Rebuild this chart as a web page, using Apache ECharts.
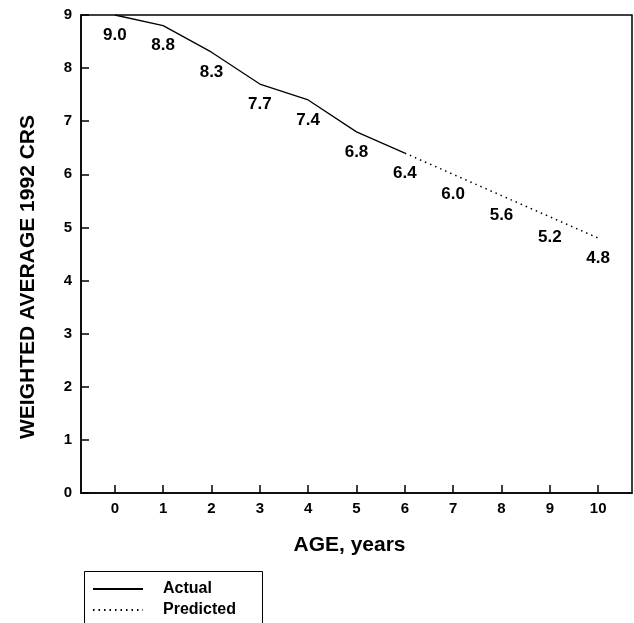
<!DOCTYPE html>
<html>
<head>
<meta charset="utf-8">
<script src="https://cdn.jsdelivr.net/npm/echarts@6/dist/echarts.min.js"></script>
<style>
  html, body { margin: 0; padding: 0; background: #fff; }
  #chart { width: 634px; height: 623px; }
</style>
</head>
<body>
<div id="chart"></div>
<script>
// ages on the x axis
var ages = [0, 1, 2, 3, 4, 5, 6, 7, 8, 9, 10];
// actual values, age 0..6
var actualAges = [0, 1, 2, 3, 4, 5, 6];
var actualValues = [9.0, 8.8, 8.3, 7.7, 7.4, 6.8, 6.4];
// predicted values, age 6..10
var predictedAges = [6, 7, 8, 9, 10];
var predictedValues = [6.4, 6.0, 5.6, 5.2, 4.8];
var yTicks = [0, 1, 2, 3, 4, 5, 6, 7, 8, 9];

var font = 'Liberation Sans, Arial, Helvetica, sans-serif';

var chart = echarts.init(document.getElementById('chart'));

function pairs(xs, ys, skipFirstLabel) {
  var out = [];
  for (var i = 0; i < xs.length; i++) {
    var item = { value: [xs[i], ys[i]] };
    if (skipFirstLabel && i === 0) item.label = { show: false };
    out.push(item);
  }
  return out;
}

var labelStyle = {
  show: true,
  position: 'bottom',
  distance: 11,
  color: '#000',
  fontFamily: font,
  fontWeight: 'bold',
  fontSize: 17,
  formatter: function (p) { return p.value[1].toFixed(1); }
};

chart.setOption({
  animation: false,
  backgroundColor: '#fff',
  grid: {
    left: 81,
    right: 2,
    top: 15,
    bottom: 130,
    show: true,
    borderColor: '#000',
    borderWidth: 1.5
  },
  xAxis: {
    type: 'value',
    min: -0.7,
    max: 10.7,
    name: 'AGE, years',
    nameLocation: 'middle',
    nameGap: 42,
    nameTextStyle: { color: '#000', fontFamily: font, fontWeight: 'bold', fontSize: 21, padding: [0, 14, 0, 0] },
    axisLine: { lineStyle: { color: '#000', width: 1.5 } },
    axisTick: { inside: true, length: 8, customValues: ages, lineStyle: { color: '#000', width: 1.5 } },
    axisLabel: {
      customValues: ages,
      margin: 8,
      color: '#000',
      fontFamily: font,
      fontWeight: 'bold',
      fontSize: 15
    },
    splitLine: { show: false }
  },
  yAxis: {
    type: 'value',
    min: 0,
    max: 9,
    interval: 1,
    name: 'WEIGHTED AVERAGE 1992 CRS',
    nameLocation: 'middle',
    nameGap: 42,
    nameTextStyle: { color: '#000', fontFamily: font, fontWeight: 'bold', fontSize: 21, padding: [0, 46, 0, 0] },
    axisLine: { onZero: false, lineStyle: { color: '#000', width: 1.5 } },
    axisTick: { inside: true, length: 8, lineStyle: { color: '#000', width: 1.5 } },
    axisLabel: {
      margin: 9,
      color: '#000',
      fontFamily: font,
      fontWeight: 'bold',
      fontSize: 15,
      formatter: function (v) { return yTicks.indexOf(v) >= 0 ? String(v) : ''; }
    },
    splitLine: { show: false }
  },
  legend: {
    orient: 'vertical',
    left: 81,
    top: 569,
    padding: [12, 24, 4, 11],
    itemWidth: 50,
    itemHeight: 14,
    itemGap: 5,
    itemStyle: { color: 'rgba(0,0,0,0)', borderWidth: 0 },
    textStyle: {
      color: '#000',
      fontFamily: font,
      fontWeight: 'bold',
      fontSize: 16,
      lineHeight: 14,
      padding: [0, 0, 0, 15]
    },
    data: ['Actual', 'Predicted']
  },
  graphic: [{
    type: 'rect',
    left: 82,
    top: 569,
    shape: { width: 178, height: 80 },
    style: { fill: 'none', stroke: '#000', lineWidth: 1 }
  }],
  series: [
    {
      name: 'Actual',
      type: 'line',
      symbol: 'circle',
      symbolSize: 1,
      data: pairs(actualAges, actualValues, false),
      lineStyle: { color: '#000', width: 1.3 },
      itemStyle: { color: 'rgba(0,0,0,0)' },
      label: labelStyle
    },
    {
      name: 'Predicted',
      type: 'line',
      symbol: 'circle',
      symbolSize: 1,
      data: pairs(predictedAges, predictedValues, true),
      lineStyle: { color: '#000', width: 1.5, type: [1.5, 4] },
      itemStyle: { color: 'rgba(0,0,0,0)' },
      label: labelStyle
    }
  ]
});
</script>
</body>
</html>
